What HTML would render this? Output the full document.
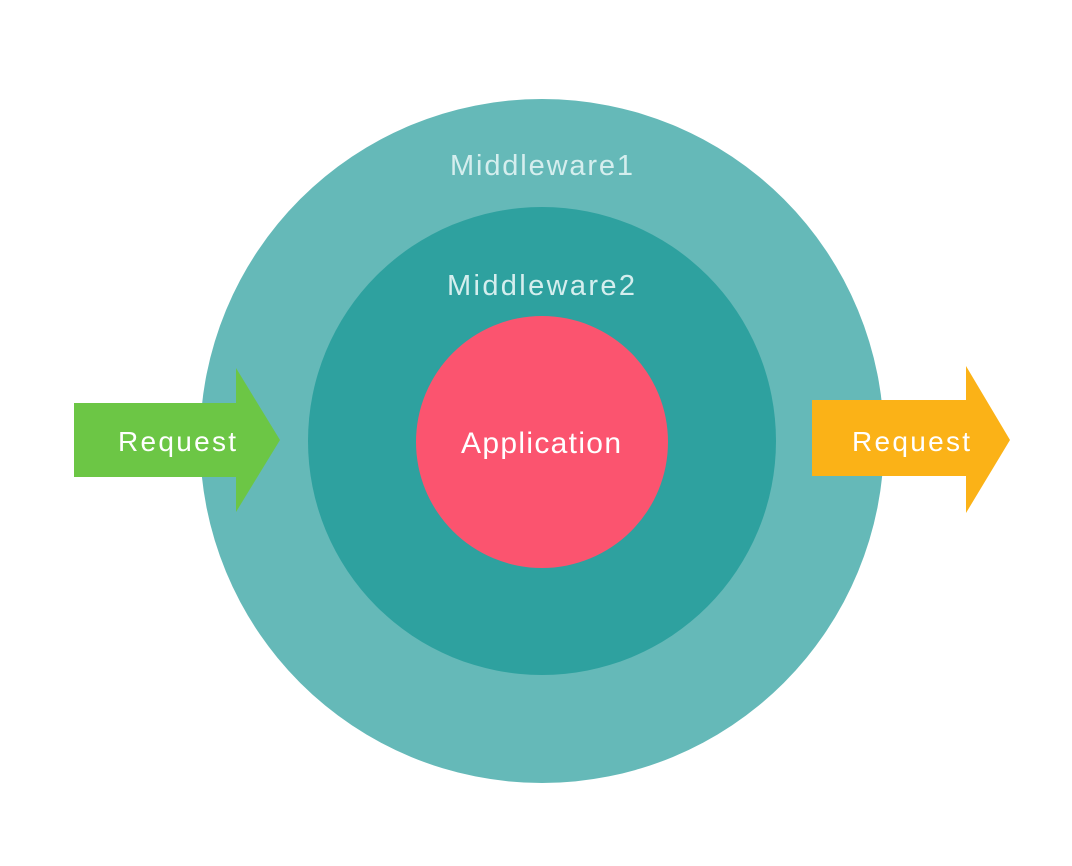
<!DOCTYPE html>
<html><head><meta charset="utf-8"><style>
html,body{margin:0;padding:0;background:#fff;}
svg{display:block;}
text{font-family:"Liberation Sans",sans-serif;}
</style></head><body>
<svg width="1072" height="866" viewBox="0 0 1072 866">
<rect width="1072" height="866" fill="#fff"/>
<circle cx="542" cy="441" r="342" fill="#65b9b8"/>
<circle cx="542" cy="441" r="234" fill="#2ea19f"/>
<circle cx="542" cy="442" r="126" fill="#fb546f"/>
<polygon points="74,403 236,403 236,368 280,440 236,512 236,477 74,477" fill="#6cc645"/>
<polygon points="812,400 966,400 966,366 1010,440 966,513 966,476 812,476" fill="#fbb217"/>
<text x="450" y="175" font-size="29" fill="#d5eeee" textLength="183" lengthAdjust="spacing">Middleware1</text>
<text x="447" y="295" font-size="29" fill="#d5eeee" textLength="188" lengthAdjust="spacing">Middleware2</text>
<text x="461" y="453" font-size="30" fill="#fff" textLength="160" lengthAdjust="spacing">Application</text>
<text x="118" y="451" font-size="28" fill="#fff" textLength="118" lengthAdjust="spacing">Request</text>
<text x="852" y="451" font-size="28" fill="#fff" textLength="118" lengthAdjust="spacing">Request</text>
</svg>
</body></html>
